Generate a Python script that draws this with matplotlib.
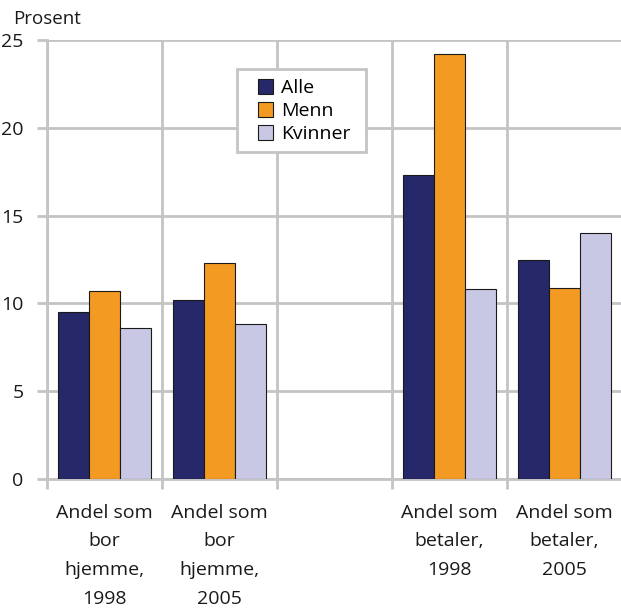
import matplotlib
matplotlib.use("Agg")
import matplotlib.pyplot as plt
from matplotlib.patches import Rectangle
import numpy as np

plt.rcParams['font.family'] = ['Open Sans', 'DejaVu Sans']

categories = ["Andel som\nbor\nhjemme,\n1998", "Andel som\nbor\nhjemme,\n2005", "",
              "Andel som\nbetaler,\n1998", "Andel som\nbetaler,\n2005"]
series_names = ["Alle", "Menn", "Kvinner"]
alle = [9.5, 10.2, np.nan, 17.3, 12.5]
menn = [10.7, 12.3, np.nan, 24.2, 10.9]
kvinner = [8.6, 8.8, np.nan, 10.8, 14.0]
yticks = [0, 5, 10, 15, 20, 25]

colors = ["#262869", "#F39A23", "#C8C8E4"]
grid_c = "#C4C4C4"
fs = 14
W, H = 621, 608

fig = plt.figure(figsize=(W/100, H/100), dpi=100)
ax = fig.add_axes([47/W, 1-479/H, 575/W, 439/H])

x = np.arange(len(categories))
w = 0.27
for i, (vals, name, c) in enumerate(zip([alle, menn, kvinner], series_names, colors)):
    ax.bar(x + (i-1)*w, vals, width=w, color=c, edgecolor="#1a1a1a", linewidth=0.8,
           label=name, zorder=3)

ax.set_xlim(-0.5, len(categories)-0.5)
ax.set_ylim(0, 25)
ax.set_yticks(yticks)
ax.set_yticklabels([str(t) for t in yticks], fontsize=fs, color="#1a1a1a")
ax.set_xticks(x)
ax.set_xticklabels(categories, fontsize=fs, color="#1a1a1a", linespacing=1.75)
ax.set_xticks(np.arange(-0.5, len(categories)), minor=True)
ax.tick_params(axis='x', which='major', length=0, pad=18)
ax.tick_params(axis='x', which='minor', length=7, width=2, color=grid_c)
ax.tick_params(axis='y', length=7, width=2, color=grid_c, pad=10)

ax.grid(axis='y', color=grid_c, linewidth=2, zorder=0)
ax.grid(axis='x', which='minor', color=grid_c, linewidth=2, zorder=0)
for s in ['top', 'right']:
    ax.spines[s].set_visible(False)
for s in ['left', 'bottom']:
    ax.spines[s].set_color(grid_c)
    ax.spines[s].set_linewidth(2)

# legend frame drawn separately for wider horizontal padding
frame = Rectangle((237/W, 1-152/H), (366-237)/W, (152-69)/H, transform=fig.transFigure,
                  facecolor="white", edgecolor=grid_c, linewidth=2, zorder=4)
fig.add_artist(frame)
leg = fig.legend(*ax.get_legend_handles_labels(), loc='upper left',
                 bbox_to_anchor=(252/W, 1-73/H), fontsize=fs,
                 frameon=False, borderpad=0.3, handlelength=0.8,
                 handleheight=0.8, handletextpad=0.4, labelspacing=0.25, borderaxespad=0)
leg.set_zorder(5)

fig.text(13/W, 1-19/H, "Prosent", fontsize=13.5, color="#1a1a1a", va='center', ha='left')

fig.savefig("out.png", dpi=100)
